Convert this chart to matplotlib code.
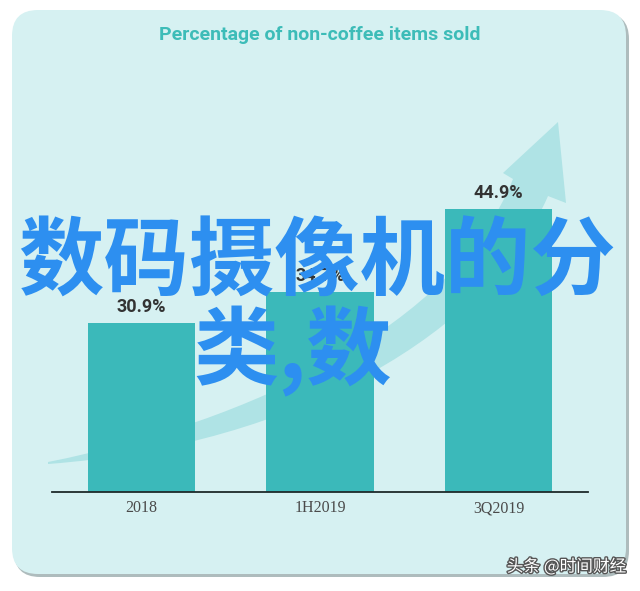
import matplotlib
matplotlib.use("Agg")
import matplotlib.pyplot as plt
from matplotlib.patches import FancyBboxPatch, PathPatch
from matplotlib.path import Path
import matplotlib.patheffects as pe

# chart data
categories = ["2018", "1H2019", "3Q2019"]
values = [30.9, 34.7, 44.9]
value_labels = ["30.9%", "34.7%", "44.9%"]
title = "Percentage of non-coffee items sold"
overlay_lines = ["数码摄像机的分", "类,数"]
watermark = "头条 @时间财经"

W, H = 640, 591
BG = "#d6f1f2"
BAR = "#3bb9ba"
SWOOSH = "#afe3e5"
BLUE = "#2d8ff0"

fig = plt.figure(figsize=(W / 100, H / 100), dpi=100)
fig.patch.set_facecolor("white")

# background layer in pixel coordinates
bg = fig.add_axes([0, 0, 1, 1], zorder=0)
bg.set_xlim(0, W)
bg.set_ylim(H, 0)
bg.axis("off")

shadow = FancyBboxPatch((14, 13), 615, 564, boxstyle="round,pad=0,rounding_size=26",
                        fc="#aebcbd", ec="none")
bg.add_patch(shadow)
card = FancyBboxPatch((12, 10), 614, 564, boxstyle="round,pad=0,rounding_size=26",
                      fc=BG, ec="none")
bg.add_patch(card)

# the rising swoosh arrow behind the bars
verts = [
    (48, 462),
    (250, 422), (455, 325), (513, 179),
    (503, 173),
    (558, 122),
    (566, 203),
    (548, 196),
    (490, 330), (300, 445), (48, 464),
    (48, 462),
]
codes = [Path.MOVETO,
         Path.CURVE4, Path.CURVE4, Path.CURVE4,
         Path.LINETO, Path.LINETO, Path.LINETO, Path.LINETO,
         Path.CURVE4, Path.CURVE4, Path.CURVE4,
         Path.CLOSEPOLY]
bg.add_patch(PathPatch(Path(verts, codes), fc=SWOOSH, ec="none"))

# bar chart
ax = fig.add_axes([52 / W, (H - 492) / H, 536 / W, 324 / H], zorder=1)
ax.patch.set_alpha(0)
x = range(len(categories))
bars = ax.bar(x, values, width=0.6, bottom=0, color=BAR, zorder=2)
ax.set_xlim(-0.5, 2.5)
ax.set_ylim(10, 50)
for s in ["top", "right", "left"]:
    ax.spines[s].set_visible(False)
ax.spines["bottom"].set_color("#1e2a2a")
ax.spines["bottom"].set_linewidth(1.3)
ax.spines["bottom"].set_zorder(3)
ax.set_yticks([])
ax.set_xticks(list(x))
ax.set_xticklabels(categories, family="Liberation Serif", fontsize=11.5, color="#4a4a4a")
ax.tick_params(axis="x", length=0, pad=6)

for b, lab in zip(bars, value_labels):
    ax.annotate(lab, (b.get_x() + b.get_width() / 2, b.get_height()),
                xytext=(0, 5), textcoords="offset points", ha="center", va="bottom",
                family="Roboto", fontweight="bold", fontsize=13, color="#333333")

fig.text(320 / W, 1 - 35 / H, title, ha="center", va="center", family="Roboto",
         fontweight="bold", fontsize=14, color="#3dbcb8")

# big overlay text
fig.text(18 / W, 1 - 263 / H, overlay_lines[0], ha="left", va="center",
         family=["Noto Sans CJK SC", "DejaVu Sans"], fontweight="bold",
         fontsize=61.5, color=BLUE, zorder=5)
fig.text(193 / W, 1 - 351 / H, overlay_lines[1], ha="left", va="center",
         family=["Noto Sans CJK SC", "DejaVu Sans"], fontweight="bold",
         fontsize=61.5, color=BLUE, zorder=5)

fig.text(626 / W, 1 - 567 / H, watermark, ha="right", va="center",
         family=["Noto Sans CJK SC", "DejaVu Sans"], fontsize=12, color="white",
         zorder=6, path_effects=[pe.withStroke(linewidth=2, foreground="#555555")])

fig.savefig("out.png", dpi=100, facecolor="white")
